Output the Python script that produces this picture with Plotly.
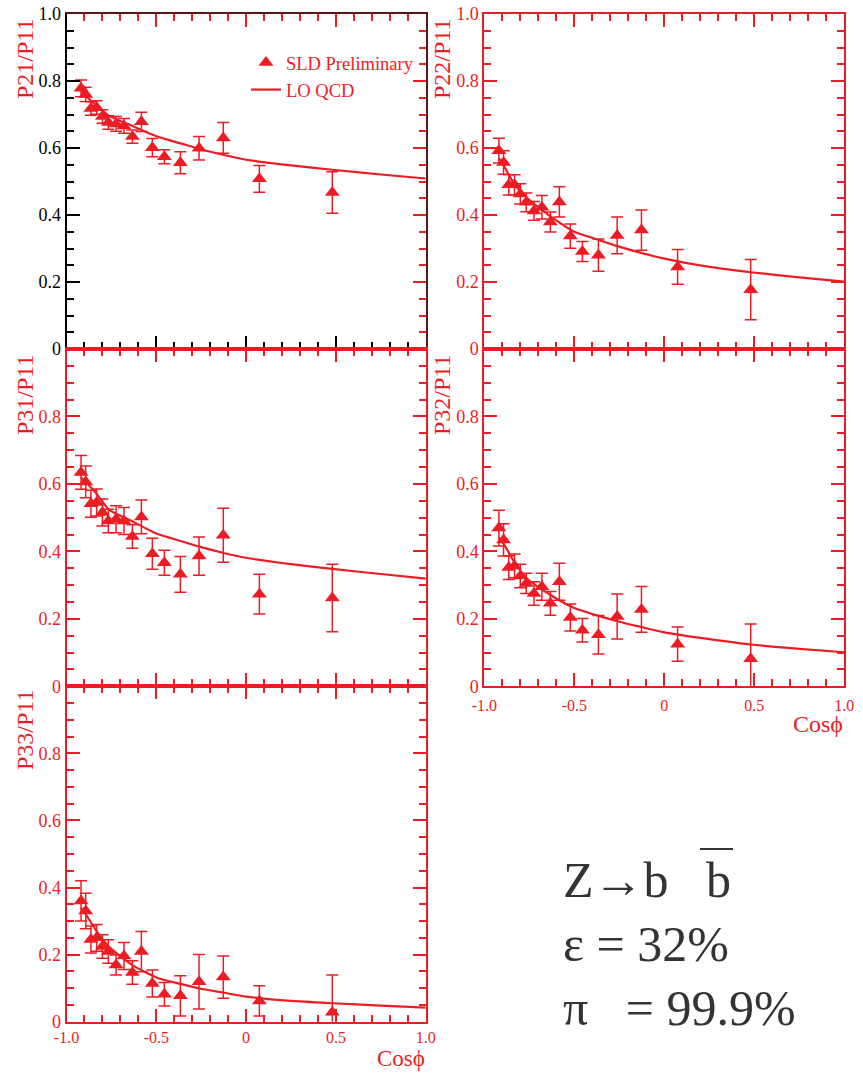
import plotly.graph_objects as go

RED = "#ec1c24"
DARK = "#333333"
DARKLINE = "#5c1416"
FONT = "Liberation Serif, Times New Roman, serif"

cos_phi = [-0.919, -0.893, -0.864, -0.832, -0.800, -0.767, -0.724, -0.680, -0.633,
           -0.583, -0.522, -0.455, -0.366, -0.262, -0.127, 0.074, 0.480]

p21 = [0.778, 0.760, 0.718, 0.721, 0.694, 0.676, 0.672, 0.666, 0.634, 0.678, 0.601,
       0.574, 0.556, 0.599, 0.630, 0.508, 0.467]
p21_err = [0.025, 0.021, 0.020, 0.020, 0.020, 0.020, 0.022, 0.022, 0.020, 0.029, 0.027,
           0.021, 0.033, 0.035, 0.046, 0.040, 0.062]

p22 = [0.592, 0.557, 0.490, 0.490, 0.463, 0.438, 0.412, 0.423, 0.379, 0.439, 0.337,
       0.291, 0.280, 0.339, 0.355, 0.245, 0.177]
p22_err = [0.037, 0.035, 0.030, 0.030, 0.030, 0.028, 0.028, 0.035, 0.030, 0.045, 0.036,
           0.030, 0.048, 0.055, 0.060, 0.052, 0.090]

p31 = [0.634, 0.606, 0.541, 0.545, 0.515, 0.490, 0.495, 0.490, 0.444, 0.502, 0.393,
       0.366, 0.332, 0.386, 0.448, 0.273, 0.262]
p31_err = [0.050, 0.047, 0.040, 0.040, 0.040, 0.035, 0.040, 0.040, 0.035, 0.050, 0.046,
           0.037, 0.053, 0.057, 0.080, 0.059, 0.100]

p32 = [0.469, 0.434, 0.352, 0.357, 0.327, 0.305, 0.275, 0.295, 0.246, 0.310, 0.204,
       0.166, 0.153, 0.207, 0.228, 0.125, 0.082]
p32_err = [0.053, 0.048, 0.035, 0.035, 0.035, 0.030, 0.035, 0.040, 0.035, 0.055, 0.040,
           0.035, 0.057, 0.067, 0.068, 0.051, 0.103]

p33 = [0.360, 0.330, 0.245, 0.250, 0.224, 0.209, 0.169, 0.196, 0.147, 0.209, 0.114,
       0.082, 0.077, 0.119, 0.133, 0.062, 0.028]
p33_err = [0.060, 0.053, 0.040, 0.040, 0.035, 0.035, 0.030, 0.040, 0.035, 0.060, 0.040,
           0.035, 0.060, 0.081, 0.063, 0.045, 0.111]

qcd_x = [-0.92, -0.89, -0.83, -0.76, -0.63, -0.50, -0.36, -0.26, -0.13, 0.0, 0.25, 0.48, 0.75, 1.0]
qcd_p21 = [0.775, 0.755, 0.725, 0.695, 0.665, 0.635, 0.613, 0.597, 0.580, 0.565, 0.548, 0.535, 0.521, 0.509]
qcd_p22 = [0.570, 0.545, 0.490, 0.450, 0.395, 0.350, 0.325, 0.307, 0.287, 0.270, 0.245, 0.229, 0.214, 0.201]
qcd_p31 = [0.620, 0.604, 0.569, 0.522, 0.488, 0.453, 0.430, 0.414, 0.396, 0.381, 0.362, 0.348, 0.333, 0.319]
qcd_p32 = [0.440, 0.420, 0.365, 0.318, 0.270, 0.232, 0.208, 0.193, 0.176, 0.160, 0.140, 0.124, 0.111, 0.101]
qcd_p33 = [0.340, 0.318, 0.268, 0.222, 0.168, 0.132, 0.112, 0.099, 0.087, 0.075, 0.062, 0.055, 0.048, 0.042]

y_titles = ["P21/P11", "P22/P11", "P31/P11", "P32/P11", "P33/P11"]
x_tickvals = [-1.0, -0.5, 0.0, 0.5, 1.0]
x_ticktext = ["-1.0", "-0.5", "0", "0.5", "1.0"]
y_tickvals_top = [0, 0.2, 0.4, 0.6, 0.8, 1.0]
y_ticktext_top = ["0", "0.2", "0.4", "0.6", "0.8", "1.0"]
y_tickvals = [0, 0.2, 0.4, 0.6, 0.8]
y_ticktext = ["0", "0.2", "0.4", "0.6", "0.8"]

W, H = 863, 1073
XL = [66.5 / W, 425.7 / W]
XR = [484.3 / W, 844.3 / W]
R1 = [1 - 349 / H, 1 - 14 / H]
R2 = [1 - 686.3 / H, 1 - 349 / H]
R3 = [1 - 1021.7 / H, 1 - 686.3 / H]

panels = [
    (p21, p21_err, qcd_p21, XL, R1, True, False),
    (p22, p22_err, qcd_p22, XR, R1, True, False),
    (p31, p31_err, qcd_p31, XL, R2, False, False),
    (p32, p32_err, qcd_p32, XR, R2, False, True),
    (p33, p33_err, qcd_p33, XL, R3, False, True),
]

fig = go.Figure()
layout = {}
for i, (vals, errs, curve, xd, yd, top, xlab) in enumerate(panels):
    n = i + 1
    xa = "x" if n == 1 else f"x{n}"
    ya = "y" if n == 1 else f"y{n}"
    first = n == 1
    fig.add_trace(go.Scatter(
        x=cos_phi, y=vals, mode="markers", xaxis=xa, yaxis=ya,
        name="SLD Preliminary", showlegend=first,
        marker=dict(symbol="triangle-up", size=13, color=RED),
        error_y=dict(type="data", array=errs, color=RED, thickness=1.5, width=6),
    ))
    fig.add_trace(go.Scatter(
        x=qcd_x, y=curve, mode="lines", xaxis=xa, yaxis=ya,
        name="LO QCD", showlegend=first,
        line=dict(color=RED, width=2.2, shape="spline", smoothing=0.6),
    ))
    tick_col = "black" if first else RED
    line_col_y = "black" if first else RED
    layout[f"xaxis{'' if n == 1 else n}"] = dict(
        domain=xd, anchor=ya, range=[-1, 1], showgrid=False, zeroline=False,
        showline=True, linecolor=RED, linewidth=2,
        mirror=False if first else "ticks",
        ticks="inside", ticklen=13, tickwidth=2, tickcolor=tick_col,
        tickmode="array", tickvals=x_tickvals, ticktext=x_ticktext,
        showticklabels=xlab, ticklabelstandoff=(0 if n == 5 else 3),
        tickfont=dict(family=FONT, size=16, color=RED),
        minor=dict(tickmode="linear", tick0=-1, dtick=0.1, ticks="inside",
                   ticklen=7, tickwidth=2, tickcolor=tick_col),
    )
    layout[f"yaxis{'' if n == 1 else n}"] = dict(
        domain=yd, anchor=xa, range=[0, 1], showgrid=False, zeroline=False,
        showline=True, linecolor=line_col_y, linewidth=2,
        mirror=False if first else "ticks",
        ticks="inside", ticklen=13, tickwidth=2, tickcolor=tick_col,
        tickmode="array",
        tickvals=y_tickvals_top if top else y_tickvals,
        ticktext=y_ticktext_top if top else y_ticktext,
        tickfont=dict(family=FONT, size=18, color="black" if first else RED),
        minor=dict(tickmode="linear", tick0=0, dtick=0.05, ticks="inside",
                   ticklen=7, tickwidth=2, tickcolor=tick_col),
    )

# red mirror axes (top and right) for the top-left panel
layout["xaxis6"] = dict(
    overlaying="x", side="top", anchor="y", range=[-1, 1], showgrid=False, zeroline=False,
    showline=True, linecolor=DARKLINE, linewidth=2, ticks="inside", ticklen=13, tickwidth=2,
    tickcolor=RED, tickmode="array", tickvals=x_tickvals, showticklabels=False,
    minor=dict(tickmode="linear", tick0=-1, dtick=0.1, ticks="inside",
               ticklen=7, tickwidth=2, tickcolor=RED),
)
layout["yaxis6"] = dict(
    overlaying="y", side="right", anchor="x", range=[0, 1], showgrid=False, zeroline=False,
    showline=True, linecolor=DARKLINE, linewidth=2, ticks="inside", ticklen=13, tickwidth=2,
    tickcolor=RED, tickmode="array", tickvals=y_tickvals_top, showticklabels=False,
    minor=dict(tickmode="linear", tick0=0, dtick=0.05, ticks="inside",
               ticklen=7, tickwidth=2, tickcolor=RED),
)
fig.add_trace(go.Scatter(x=[-1], y=[0], xaxis="x6", yaxis="y6", mode="markers",
                         marker=dict(opacity=0), showlegend=False, hoverinfo="skip"))

annotations = []
title_pos = [(25, 17), (442, 17), (25, 353), (442, 353), (25, 688)]
for t, (px, py) in zip(y_titles, title_pos):
    annotations.append(dict(
        text=t, xref="paper", yref="paper", x=px / W, y=1 - py / H,
        xanchor="center", yanchor="top", textangle=-90, showarrow=False,
        font=dict(family=FONT, size=24, color=RED),
    ))
annotations.append(dict(
    text="Cos\u03d5", xref="paper", yref="paper", x=844.5 / W, y=1 - 724 / H,
    xanchor="right", yanchor="middle", showarrow=False,
    font=dict(family=FONT, size=24, color=RED),
))
annotations.append(dict(
    text="Cos\u03d5", xref="paper", yref="paper", x=427 / W, y=1 - 1072.5 / H,
    xanchor="right", yanchor="bottom", showarrow=False,
    font=dict(family=FONT, size=23, color=RED),
))
info_lines = ["Z\u2192b\u00a0\u00a0\u00a0b", "\u03b5 = 32%", "\u03c0\u00a0\u00a0 = 99.9%"]
for txt, py in zip(info_lines, [880, 944, 1008]):
    annotations.append(dict(
        text=txt, xref="paper", yref="paper", x=561 / W, y=1 - py / H,
        xanchor="left", yanchor="middle", showarrow=False,
        font=dict(family=FONT, size=50, color=DARK),
    ))

fig.update_layout(
    **layout,
    template="none",
    width=W, height=H,
    margin=dict(l=0, r=0, t=0, b=0),
    paper_bgcolor="white", plot_bgcolor="white",
    annotations=annotations,
    shapes=[dict(type="line", xref="paper", yref="paper",
                 x0=700 / W, x1=733 / W, y0=1 - 849 / H, y1=1 - 849 / H,
                 line=dict(color=DARK, width=2))],
    legend=dict(x=246 / W, y=1 - 44 / H, xanchor="left", yanchor="top",
                bgcolor="rgba(0,0,0,0)", font=dict(family=FONT, size=18.5, color=RED),
                tracegroupgap=0, itemwidth=30),
    showlegend=True,
)

fig.write_html("out.html")
